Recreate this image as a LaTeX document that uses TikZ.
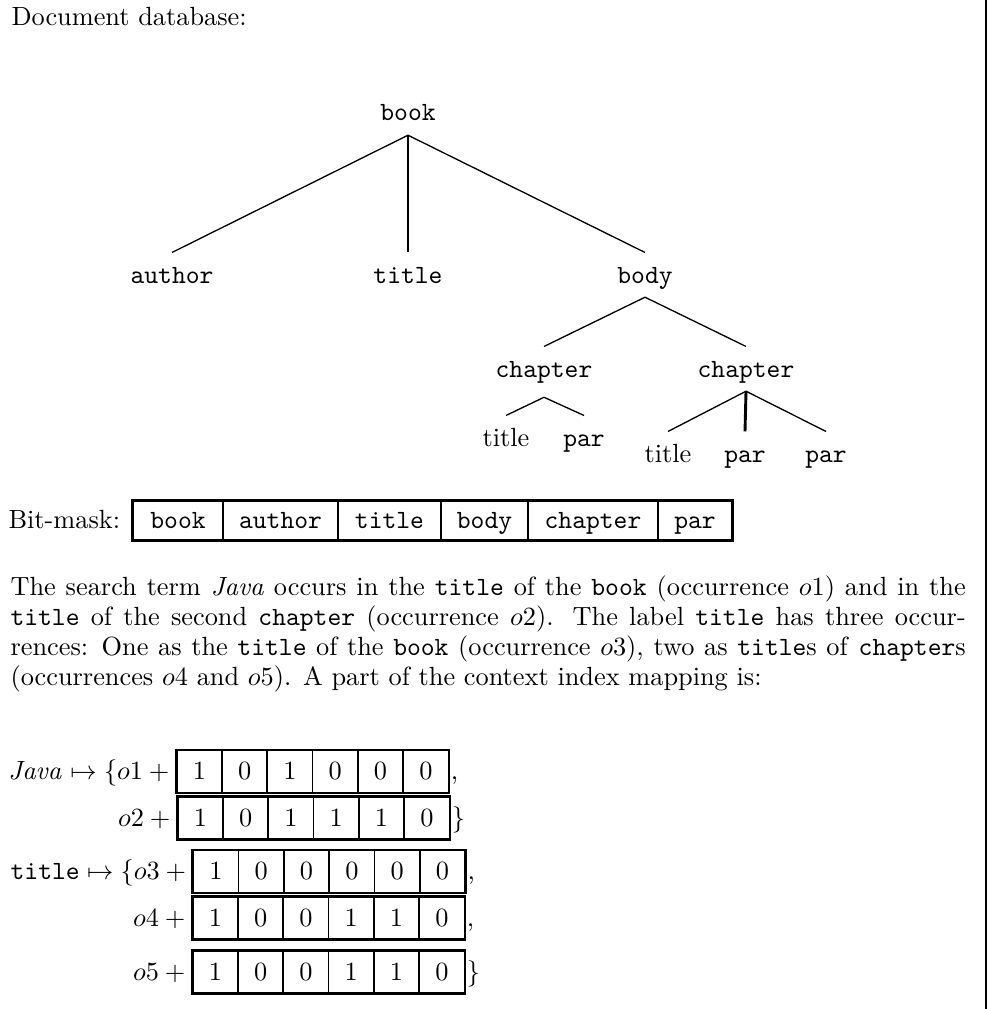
\documentclass[tikz,border=0pt]{standalone}
\newlength\pxu
\setlength\pxu{0.38pt}
% one row of six bit cells: name prefix, left x, centre y, bits
\newcommand\bitrow[4]{%
  \foreach \b [count=\i] in {#4}
    \node[digit] (#1\i) at ({#2+45.3*(\i-0.5)},#3) {\b};
  \draw[frame] (#11.north west) rectangle (#16.south east);}
\begin{document}
\begin{tikzpicture}[x=0.38pt,y=-0.38pt,
  treelbl/.style={anchor=base, inner xsep=0pt, inner ysep=5.2pt, text height=6.2pt, text depth=0pt, font=\ttfamily},
  treerm/.style={treelbl, font=\rmfamily},
  branch/.style={line width=0.5pt},
  bitcell/.style={draw, line width=0.6pt, inner sep=0pt, minimum height=39\pxu,
                  text height=6.2pt, text depth=0pt, font=\ttfamily},
  digit/.style={draw, line width=0.65pt, inner sep=0pt, minimum width=45.3\pxu,
                minimum height=42\pxu, text height=6.4pt, text depth=0pt},
  frame/.style={line width=0.85pt},
  txt/.style={inner sep=0pt, anchor=base west},
  mlbl/.style={inner sep=0pt, anchor=base east}]
\useasboundingbox (0,0) rectangle (987,1009);

% right margin rule
\draw[line width=0.6pt] (986,0) -- (986,1009);

\node[txt] (head) at (11,26) {Document database:};

% document tree
\node[treelbl] (book)   at (408,121) {book};
\node[treelbl] (author) at (172,283) {author};
\node[treelbl] (title)  at (408,283) {title};
\node[treelbl] (body)   at (645,283) {body};
\node[treelbl] (ch1)    at (544,377) {chapter};
\node[treelbl] (ch2)    at (746,377) {chapter};
\node[treerm]  (t1)     at (506,446) {title};
\node[treelbl] (p1)     at (584,446) {par};
\node[treerm]  (t2)     at (668,462) {title};
\node[treelbl] (p2)     at (745,462) {par};
\node[treelbl] (p3)     at (826,462) {par};

\draw[branch] (book.south) -- (author.north);
\draw[branch, line width=0.8pt] (book.south) -- (title.north);
\draw[branch] (book.south) -- (body.north);
\draw[branch] (body.south) -- (ch1.north);
\draw[branch] (body.south) -- (ch2.north);
\draw[branch] ([yshift=-2.3pt]ch1.south) -- (t1.north);
\draw[branch] ([yshift=-2.3pt]ch1.south) -- (p1.north);
\draw[branch] (ch2.south) -- (t2.north);
\draw[branch, line width=1.1pt] (ch2.south) -- (p2.north);
\draw[branch] (ch2.south) -- (p3.north);

% bit-mask layout
\node[txt] (bmlabel) at (8,528) {Bit-mask:};
\node[bitcell, minimum width=90\pxu]  (bm1) at (178,520.5)   {book};
\node[bitcell, minimum width=115\pxu] (bm2) at (280.5,520.5) {author};
\node[bitcell, minimum width=103\pxu] (bm3) at (389.5,520.5) {title};
\node[bitcell, minimum width=87\pxu]  (bm4) at (484.5,520.5) {body};
\node[bitcell, minimum width=130\pxu] (bm5) at (593,520.5)   {chapter};
\node[bitcell, minimum width=74\pxu]  (bm6) at (695,520.5)   {par};
\draw[frame] (bm1.north west) rectangle (bm6.south east);

% explanatory paragraph
\node[txt] (l1) at (10,595) {\makebox[363pt][s]{The search term \textit{Java} occurs in the \texttt{title} of the \texttt{book} (occurrence $o1$) and in the}};
\node[txt] (l2) at (10,625) {\makebox[363pt][s]{\texttt{title} of the second \texttt{chapter} (occurrence $o2$).  The label \texttt{title} has three occur-}};
\node[txt] (l3) at (10,655) {\makebox[363pt][s]{rences: One as the \texttt{title} of the \texttt{book} (occurrence $o3$), two as \texttt{title}s of \texttt{chapter}s}};
\node[txt] (l4) at (10,685) {(occurrences $o4$ and $o5$). A part of the context index mapping is:};

% context index mapping
\bitrow{ja}{176.7}{771.5}{1,0,1,0,0,0}
\node[mlbl] (jaL) at (ja1.base west) {$\mathit{Java}\mapsto\{o1+{}$};
\node[txt]  (jaR) at ([xshift=0.4pt]ja6.base east) {,};

\bitrow{jb}{177.7}{818}{1,0,1,1,1,0}
\node[mlbl] (jbL) at (jb1.base west) {$o2+{}$};
\node[txt]  (jbR) at ([xshift=0.4pt]jb6.base east) {$\}$};

\bitrow{ta}{193.3}{871.5}{1,0,0,0,0,0}
\node[mlbl] (taL) at (ta1.base west) {$\texttt{title}\mapsto\{o3+{}$};
\node[txt]  (taR) at ([xshift=0.4pt]ta6.base east) {,};

\bitrow{tb}{192.7}{918.3}{1,0,0,1,1,0}
\node[mlbl] (tbL) at (tb1.base west) {$o4+{}$};
\node[txt]  (tbR) at ([xshift=0.4pt]tb6.base east) {,};

\bitrow{tc}{192.7}{972.3}{1,0,0,1,1,0}
\node[mlbl] (tcL) at (tc1.base west) {$o5+{}$};
\node[txt]  (tcR) at ([xshift=0.4pt]tc6.base east) {$\}$};
\end{tikzpicture}
\end{document}
